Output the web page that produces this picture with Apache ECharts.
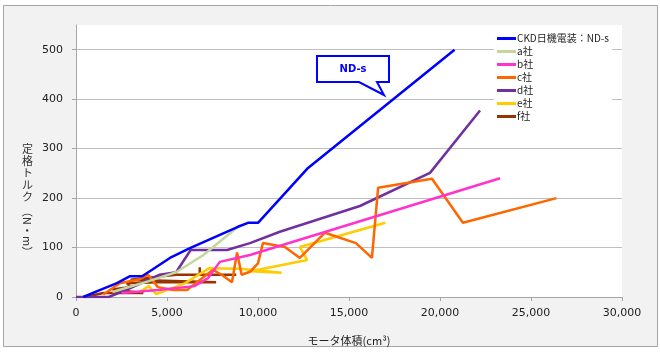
<!DOCTYPE html>
<html>
<head>
    <meta charset="utf-8">
    <title>モータ体積と定格トルク</title>
    <script src="https://cdn.jsdelivr.net/npm/echarts@6.0.0/dist/echarts.min.js"></script>
    <style>
        html, body { margin: 0; padding: 0; background: #ffffff; }
        #main { width: 660px; height: 352px; }
    </style>
</head>
<body>
    <div id="main"></div>
    <script>
        // series names (legend order)
        var seriesNames = ['CKD日機電装：ND-s', 'a社', 'b社', 'c社', 'd社', 'e社', 'f社'];

        // [モータ体積(cm3), 定格トルク(N・m)]
        var ckdData = [[400, 0], [1300, 14], [2250, 28], [2970, 42], [3630, 42], [4180, 55], [5160, 79],
            [6260, 99], [8900, 142], [9450, 150], [10000, 150], [12750, 261], [20800, 500]];
        var aData = [[2000, 10], [4000, 32], [5500, 50], [7000, 85], [8900, 142]];
        var bData = [[2500, 8], [4500, 14], [6500, 22], [7250, 38], [7900, 71], [9560, 85], [23300, 240]];
        var cData = [[1500, 5], [2400, 28], [3500, 36], [3960, 45], [4500, 20], [5330, 14], [6100, 14],
            [7000, 40], [7530, 55], [8000, 45], [8570, 30], [8850, 90], [9100, 45], [9560, 51],
            [10000, 68], [10270, 109], [11480, 101], [12300, 79], [13680, 130], [15380, 109],
            [16260, 79], [16600, 221], [19560, 239], [21260, 150], [26400, 200]];
        var dData = [[0, 0], [1800, 0], [2800, 15], [4600, 45], [5500, 50], [6300, 95], [8300, 95],
            [9560, 109], [11200, 132], [15600, 184], [19450, 251], [22200, 377]];
        var eData = [[3500, 10], [4000, 22], [4400, 6], [5000, 14], [6000, 28], [7300, 58], [9000, 57],
            [11300, 49], [9600, 52], [12700, 75], [12300, 101], [17000, 150]];
        var fData = [[500, 0], [1500, 8], [3700, 8], [2000, 15], [3000, 20], [2800, 28], [4500, 30],
            [7700, 30], [3000, 35], [5500, 45], [6800, 45], [6800, 60], [6800, 45], [8800, 45]];

        var seriesColors = ['#0000ff', '#c4d79b', '#ff33cc', '#ff6600', '#7030a0', '#ffcc00', '#993300'];

        // axis ticks
        var xMin = 0, xMax = 30000, xStep = 5000;
        var yMin = 0, yMax = 550, yStep = 100;

        var allData = [ckdData, aData, bData, cData, dData, eData, fData];
        var fontNum = 'Verdana, "DejaVu Sans", "Noto Sans CJK JP"';
        var fontJp = '"Noto Sans CJK JP", sans-serif';

        var chart = echarts.init(document.getElementById('main'));

        var series = [];
        // Excel draws the first series at the back, so push in reverse to keep CKD on top
        for (var i = allData.length - 1; i >= 0; i--) {
            series.push({
                name: seriesNames[i],
                type: 'line',
                data: allData[i],
                showSymbol: false,
                symbol: 'none',
                silent: true,
                lineStyle: { color: seriesColors[i], width: 2.5 },
                itemStyle: { color: seriesColors[i] }
            });
        }

        var option = {
            animation: false,
            graphic: [
                {
                    type: 'rect', z: -10, silent: true,
                    shape: { x: 3.5, y: 5.5, width: 654, height: 341 },
                    style: { fill: '#f2f2f2', stroke: '#a6a6a6', lineWidth: 1 }
                },
                {
                    type: 'text', left: 22, top: 143, silent: true,
                    style: { text: '定\n格\nト\nル\nク', font: '11px ' + fontJp, fill: '#333', lineHeight: 12 }
                },
                {
                    type: 'text', x: 33, y: 206, rotation: -Math.PI / 2, silent: true,
                    style: { text: '（N・m）', font: '11px ' + fontJp, fill: '#333' }
                },
                {
                    type: 'polygon', z: 100, silent: true,
                    shape: { points: [[317, 56], [389, 56], [389, 82], [377, 82], [384, 95], [359, 82], [317, 82]] },
                    style: { fill: '#ffffff', stroke: '#0000ff', lineWidth: 2 }
                },
                {
                    type: 'text', z: 101, x: 353, y: 69, silent: true,
                    style: {
                        text: 'ND-s', font: 'bold 10px ' + fontNum, fill: '#0000ff',
                        align: 'center', verticalAlign: 'middle'
                    }
                }
            ],
            grid: {
                left: 76, top: 25, right: 38, bottom: 55,
                show: true, backgroundColor: '#ffffff', borderWidth: 0
            },
            legend: {
                data: seriesNames,
                orient: 'vertical',
                left: 494, top: 29,
                itemWidth: 19, itemHeight: 3, itemGap: 0,
                icon: 'rect',
                backgroundColor: '#ffffff',
                padding: [3, 3, 3, 3],
                textStyle: { fontFamily: fontJp, fontSize: 10, color: '#222', lineHeight: 13, padding: [0, 0, 0, -4] }
            },
            xAxis: {
                type: 'value',
                min: xMin, max: xMax, interval: xStep,
                name: 'モータ体積(cm³)',
                nameLocation: 'middle',
                nameGap: 38,
                nameTextStyle: { fontFamily: fontJp, fontSize: 11, color: '#222' },
                axisLine: { show: true, lineStyle: { color: '#a6a6a6', width: 1 } },
                axisTick: { show: true, length: 4, lineStyle: { color: '#a6a6a6' } },
                axisLabel: {
                    fontFamily: fontNum, fontSize: 11, color: '#222', margin: 11,
                    formatter: function (v) { return v.toLocaleString('en-US'); }
                },
                splitLine: { show: false }
            },
            yAxis: {
                type: 'value',
                min: yMin, max: yMax, interval: yStep,
                axisLine: { show: true, lineStyle: { color: '#a6a6a6', width: 1 } },
                axisTick: { show: true, length: 4, lineStyle: { color: '#a6a6a6' } },
                axisLabel: { fontFamily: fontNum, fontSize: 11, color: '#222', margin: 13, showMaxLabel: false },
                splitLine: {
                    show: true,
                    lineStyle: {
                        width: 1,
                        color: ['#bfbfbf', '#bfbfbf', '#bfbfbf', '#bfbfbf', '#bfbfbf', '#bfbfbf', 'rgba(0,0,0,0)']
                    }
                }
            },
            series: series
        };

        chart.setOption(option);
    </script>
</body>
</html>
